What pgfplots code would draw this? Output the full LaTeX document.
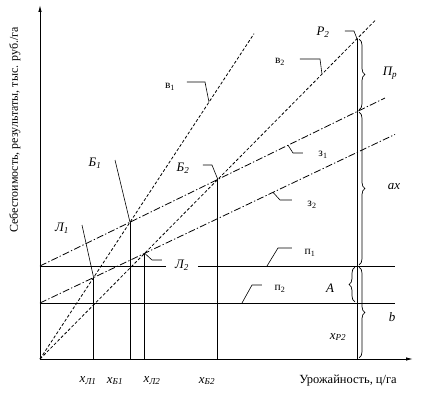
\documentclass[border=0pt]{standalone}
\usepackage{fontspec}
\setmainfont{Liberation Serif}
\usepackage{pgfplots}
\pgfplotsset{compat=1.18}
\usetikzlibrary{arrows.meta,decorations.pathreplacing}
\pgfplotsset{
  ln/.style={black, line width=0.8pt, mark=none, solid},
  vv/.style={black, line width=0.8pt, mark=none, dash pattern=on 3pt off 2pt},
  zz/.style={black, line width=0.8pt, mark=none, dash pattern=on 7pt off 2.2pt on 1.3pt off 2.2pt},
}
\tikzset{
  lead/.style={black, line width=0.6pt},
  br/.style={black, line width=0.7pt, decorate, decoration={brace, amplitude=6pt}},
  sm/.style={font=\fontsize{11.5}{11.5}\selectfont},
  it/.style={font=\fontsize{13}{13}\selectfont\itshape},
}
\begin{document}
\begin{tikzpicture}
\begin{axis}[
  x=1bp, y=1bp,
  xmin=0, xmax=373, ymin=0, ymax=354,
  axis lines=left,
  axis line style={line width=0.9pt, -{Latex[length=7pt,width=3.5pt]}},
  ticks=none,
  clip=false,
  enlargelimits=false,
]
% bounding box matching the reference
\path (-40,-36) rectangle (381,359);

% fixed costs п1, п2
\addplot[ln] coordinates {(0,93) (126,93)};
\addplot[ln] coordinates {(158,93) (355,93)};
\addplot[ln] coordinates {(0,56) (355,56)};

% costs з1, з2
\addplot[zz] coordinates {(0,93) (345,261.0)};
\addplot[zz] coordinates {(0,56) (355,224.6)};

% revenue в1, в2
\addplot[vv] coordinates {(0,0) (214,325.3)};
\addplot[vv] coordinates {(0,0) (335,338.4)};

% verticals
\addplot[ln] coordinates {(53.6,0) (53.6,81.5)};
\addplot[ln] coordinates {(90.0,0) (90.0,136.8)};
\addplot[ln] coordinates {(104.7,0) (104.7,105.7)};
\addplot[ln] coordinates {(177.8,0) (177.8,179.6)};
\addplot[ln] coordinates {(317,0) (317,320.2)};

% leaders and labels
\draw[lead] (147,277) -- (165,277) -- (169,256.9);
\node[sm] at (130,272) {в\textsubscript{1}};

\draw[lead] (260,300) -- (280,300) -- (282,284.8);
\node[sm] at (240,297) {в\textsubscript{2}};

\draw[lead] (305,328) -- (314,328) -- (317,320.2);
\node[it] at (283,327) {P\textsubscript{2}};

\draw[lead] (248,213.8) -- (253,206) -- (263,206);
\node[sm] at (283,204) {з\textsubscript{1}};

\draw[lead] (233,166.7) -- (240,159) -- (252,159);
\node[sm] at (272,154) {з\textsubscript{2}};

\draw[lead] (227,93) -- (238,111) -- (252,111);
\node[sm] at (270,106) {п\textsubscript{1}};

\draw[lead] (202,56) -- (212,74) -- (222,74);
\node[sm] at (240,70) {п\textsubscript{2}};

\draw[lead] (75,199) -- (90,136.8);
\node[it] at (55,196) {Б\textsubscript{1}};

\draw[lead] (163,194) -- (172,194) -- (177.8,179.6);
\node[it] at (143,191) {Б\textsubscript{2}};

\draw[lead] (42,134) -- (53.6,81.5);
\node[it] at (22,131) {Л\textsubscript{1}};

\draw[lead] (104.7,105.7) -- (112,99) -- (122,99);
\node[it] at (142,94) {Л\textsubscript{2}};

% braces
\draw[br] (319,320) -- (319,249);
\node[it] at (350,286) {П\textsubscript{р}};
\draw[br] (319,247) -- (319,94);
\node[it] at (354,172) {ax};
\draw[br] (319,92) -- (319,1);
\node[it] at (352,42) {b};
\draw[br] (315,57) -- (315,92);
\node[it] at (290,71) {A};
\node[it] at (298,22) {x\textsubscript{P2}};

% axis labels
\node[it] at (48,-22) {x\textsubscript{Л1}};
\node[it] at (75,-22) {x\textsubscript{Б1}};
\node[it] at (112,-22) {x\textsubscript{Л2}};
\node[it] at (167,-22) {x\textsubscript{Б2}};
\node[font=\fontsize{12.5}{12.5}\selectfont] at (308,-22) {Урожайность, ц/га};
\node[rotate=90, font=\fontsize{12}{12}\selectfont] at (-25,229) {Себестоимость, результаты, тыс. руб./га};
\end{axis}
\end{tikzpicture}
\end{document}
